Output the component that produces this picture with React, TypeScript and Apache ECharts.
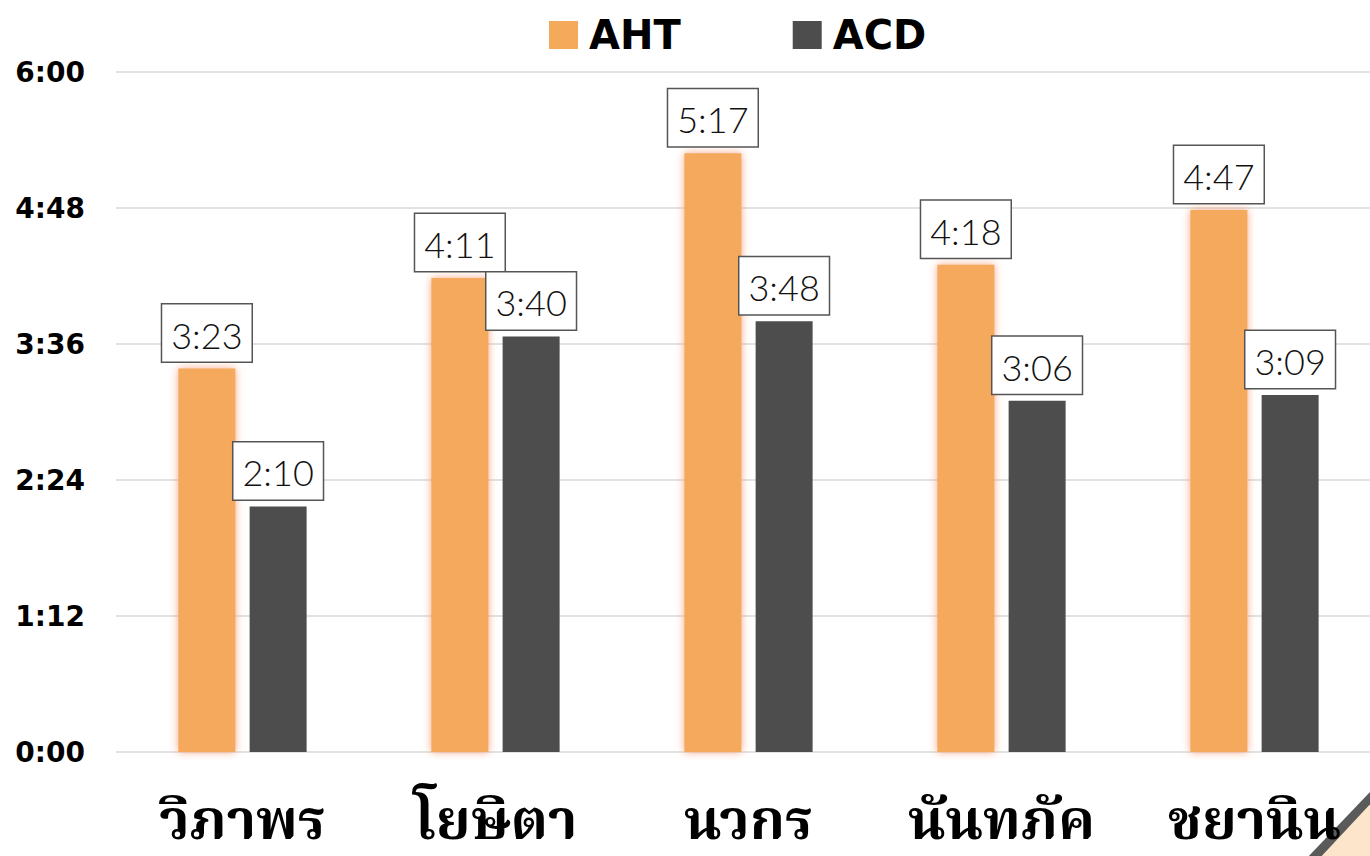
import React, { useEffect, useRef } from "react";
import * as echarts from "echarts";

const categories = ["วิภาพร", "โยษิตา", "นวกร", "นันทภัค", "ชยานิน"];
const ahtSeconds = [203, 251, 317, 258, 287];
const acdSeconds = [130, 220, 228, 186, 189];
const yMax = 360;
const yInterval = 72;

const fmt = (v: number) => {
  const m = Math.floor(v / 60);
  const s = Math.round(v % 60);
  return `${m}:${s < 10 ? "0" + s : s}`;
};

export default function App() {
  const ref = useRef<HTMLDivElement>(null);
  useEffect(() => {
    if (!ref.current) return;
    const chart = echarts.init(ref.current, undefined, { renderer: "svg" });
    const labelStyle = {
      show: true,
      position: "top" as const,
      distance: 7,
      formatter: (p: any) => fmt(p.value),
      fontSize: 36,
      fontFamily: "Lato, 'Noto Sans', sans-serif",
      fontWeight: 300,
      color: "#111",
      backgroundColor: "#fff",
      borderColor: "#555",
      borderWidth: 1.5,
      padding: [12, 9, 9, 9],
    };
    chart.setOption({
      animation: false,
      backgroundColor: "#fff",
      legend: {
        top: 10,
        left: 544,
        icon: "rect",
        itemWidth: 29,
        itemHeight: 28,
        itemGap: 112,
        textStyle: {
          fontSize: 40,
          fontWeight: "bold",
          fontFamily: "'DejaVu Sans', sans-serif",
          color: "#000",
          padding: [0, 0, 0, 6],
        },
        data: ["AHT", "ACD"],
      },
      grid: { left: 116, top: 72, width: 1265, height: 680, containLabel: false },
      xAxis: {
        type: "category",
        data: categories,
        axisLine: { show: false },
        axisTick: { show: false },
        axisLabel: {
          fontSize: 56,
          lineHeight: 56,
          fontWeight: "bold",
          color: "#000",
          margin: 44,
          fontFamily: "'Noto Serif Thai', 'Noto Sans Thai', 'Tlwg Typo', serif",
        },
      },
      yAxis: {
        type: "value",
        min: 0,
        max: yMax,
        interval: yInterval,
        axisLine: { show: false },
        axisTick: { show: false },
        splitLine: { lineStyle: { color: "#d9d9d9", width: 1.5 } },
        axisLabel: {
          formatter: (v: number) => fmt(v),
          fontSize: 28,
          fontWeight: "bold",
          color: "#000",
          margin: 31,
          fontFamily: "'DejaVu Sans', sans-serif",
        },
      },
      series: [
        {
          name: "AHT",
          type: "bar",
          data: ahtSeconds,
          barWidth: 57,
          barGap: "25%",
          itemStyle: {
            color: "#F4A95B",
            shadowColor: "rgba(248,150,110,0.85)",
            shadowBlur: 9,
          },
          label: labelStyle,
        },
        {
          name: "ACD",
          type: "bar",
          data: acdSeconds,
          barWidth: 57,
          itemStyle: { color: "#4D4D4D" },
          label: labelStyle,
        },
      ],
      graphic: [
        {
          type: "polygon",
          shape: { points: [[1372, 790], [1372, 860], [1305, 860]] },
          style: { fill: "#5a5a5a" },
          silent: true,
        },
        {
          type: "polygon",
          shape: { points: [[1372, 802], [1372, 860], [1318, 860]] },
          style: { fill: "#FDE5CC" },
          silent: true,
        },
      ],
    });
    return () => chart.dispose();
  }, []);
  return (
    <div style={{ width: 1370, height: 856, position: "absolute", left: 0, top: 0, overflow: "hidden" }}>
      <div ref={ref} style={{ width: 1385, height: 856 }} />
    </div>
  );
}
